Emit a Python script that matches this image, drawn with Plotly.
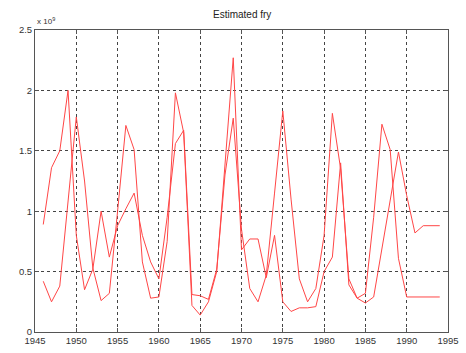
import plotly.graph_objects as go

years = list(range(1946, 1995))

# Estimated fry, in units of 10^9
fry_run1 = [0.89, 1.36, 1.50, 2.00, 0.80, 0.35, 0.52, 1.00, 0.62, 0.88,
            1.02, 1.15, 0.80, 0.58, 0.44, 0.95, 1.56, 1.67, 0.31, 0.30,
            0.27, 0.52, 1.30, 1.77, 0.85, 0.36, 0.25, 0.47, 1.15, 1.83,
            1.10, 0.44, 0.25, 0.36, 0.80, 1.81, 1.35, 0.44, 0.28, 0.32,
            0.95, 1.72, 1.51, 0.61, 0.29, 0.29, 0.29, 0.29, 0.29]

fry_run2 = [0.42, 0.25, 0.38, 1.05, 1.78, 1.25, 0.53, 0.26, 0.32, 1.00,
            1.71, 1.51, 0.58, 0.28, 0.29, 0.75, 1.98, 1.65, 0.22, 0.14,
            0.25, 0.50, 1.40, 2.27, 0.68, 0.77, 0.77, 0.45, 0.80, 0.25,
            0.17, 0.20, 0.20, 0.21, 0.50, 0.62, 1.40, 0.39, 0.28, 0.24,
            0.29, 0.69, 1.09, 1.49, 1.13, 0.82, 0.88, 0.88, 0.88]

x_ticks = list(range(1945, 2000, 5))
y_ticks = [0, 0.5, 1, 1.5, 2, 2.5]
y_tick_text = ["0", "0.5", "1", "1.5", "2", "2.5"]

line_color = "rgb(255,70,70)"
font_family = "Liberation Sans, Arial, sans-serif"

fig = go.Figure()
for series in (fry_run1, fry_run2):
    fig.add_trace(go.Scatter(x=years, y=series, mode="lines",
                             line=dict(color=line_color, width=1),
                             showlegend=False, hoverinfo="skip"))

axis_common = dict(
    showline=True, linecolor="#555", linewidth=1, mirror="ticks",
    ticks="inside", ticklen=4, tickcolor="#555",
    showgrid=True, gridcolor="#444", gridwidth=1, griddash="3px,3px",
    zeroline=False, ticklabeloverflow="allow",
    tickfont=dict(family=font_family, size=9.5, color="#333"),
)

fig.update_xaxes(range=[1945, 1995], tickmode="array", tickvals=x_ticks,
                 **axis_common)
fig.update_yaxes(range=[0, 2.5], tickmode="array", tickvals=y_ticks,
                 ticktext=y_tick_text, **axis_common)

fig.add_annotation(text="Estimated fry", xref="paper", yref="paper",
                   x=0.5, y=1, xanchor="center", yanchor="bottom", yshift=8,
                   showarrow=False,
                   font=dict(family=font_family, size=10, color="#222"))
fig.add_annotation(text="x 10<sup>9</sup>", xref="paper", yref="paper",
                   x=0, y=1, xanchor="left", yanchor="bottom", yshift=2,
                   showarrow=False,
                   font=dict(family=font_family, size=8, color="#333"))

fig.update_layout(width=466, height=353,
                  margin=dict(l=35, r=7, t=30, b=17),
                  paper_bgcolor="white", plot_bgcolor="white")

fig.write_html("out.html")
